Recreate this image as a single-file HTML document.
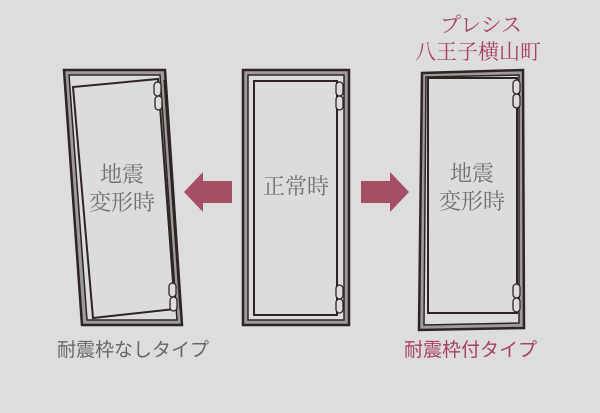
<!DOCTYPE html>
<html><head><meta charset="utf-8"><style>
html,body{margin:0;padding:0;background:#dddddd;}
svg{display:block}
text{font-family:"Noto Serif CJK SC","Liberation Serif",serif;}
</style></head><body>
<svg width="600" height="413" viewBox="0 0 600 413" xmlns="http://www.w3.org/2000/svg">
<rect width="600" height="413" fill="#dddddd"/>
<g stroke="#2e2424" stroke-linejoin="miter">
<!-- left -->
<polygon points="64,70 165,70 182,325 82,325" fill="#9c9c9c" stroke-width="2.5"/>
<polygon points="69,75 160,75 177,320 87,320" fill="#dcdcdc" stroke-width="1.5"/>
<polygon points="73,87 158,79 175,309 93,318" fill="#dcdcdc" stroke-width="2"/>
<line x1="164" y1="80" x2="180" y2="310" stroke-width="1.2"/>
<rect x="154" y="82" width="7" height="14" rx="3.5" fill="#dcdcdc" stroke-width="1.3"/>
<rect x="155" y="96" width="7" height="14" rx="3.5" fill="#dcdcdc" stroke-width="1.3"/>
<rect x="169" y="283" width="7" height="14" rx="3.5" fill="#dcdcdc" stroke-width="1.3"/>
<rect x="170" y="297" width="7" height="14" rx="3.5" fill="#dcdcdc" stroke-width="1.3"/>
<!-- center -->
<rect x="243" y="70" width="106" height="255" fill="#9c9c9c" stroke-width="2.5"/>
<rect x="248" y="75" width="96" height="245" fill="#dcdcdc" stroke-width="1.5"/>
<rect x="254" y="81" width="83" height="234" fill="#dcdcdc" stroke-width="2"/>
<rect x="336" y="82" width="7" height="14" rx="3.5" fill="#dcdcdc" stroke-width="1.3"/>
<rect x="336" y="96" width="7" height="14" rx="3.5" fill="#dcdcdc" stroke-width="1.3"/>
<rect x="336" y="285" width="7" height="14" rx="3.5" fill="#dcdcdc" stroke-width="1.3"/>
<rect x="336" y="299" width="7" height="14" rx="3.5" fill="#dcdcdc" stroke-width="1.3"/>
<!-- right -->
<polygon points="422,73 523,70 524,328 419,330" fill="#9c9c9c" stroke-width="2.5"/>
<polygon points="426,77 519,75 519,323 424,325" fill="#dcdcdc" stroke-width="1.5"/>
<rect x="428" y="78" width="89" height="235" fill="#dcdcdc" stroke-width="2"/>
<rect x="513" y="80" width="7" height="14" rx="3.5" fill="#dcdcdc" stroke-width="1.3"/>
<rect x="513" y="94" width="7" height="14" rx="3.5" fill="#dcdcdc" stroke-width="1.3"/>
<rect x="513" y="284" width="7" height="14" rx="3.5" fill="#dcdcdc" stroke-width="1.3"/>
<rect x="513" y="298" width="7" height="14" rx="3.5" fill="#dcdcdc" stroke-width="1.3"/>
</g>
<!-- arrows -->
<polygon points="184,192 203,172 203,181 232,181 232,203 203,203 203,212" fill="#a44f63"/>
<polygon points="409,192 390,172 390,181 361,181 361,203 390,203 390,212" fill="#a44f63"/>
<!-- texts -->
<g fill="#707070" font-size="22" text-anchor="middle">
<text x="122" y="182">地震</text>
<text x="122" y="210">変形時</text>
<text x="296" y="194">正常時</text>
<text x="472" y="181">地震</text>
<text x="472" y="209">変形時</text>
</g>
<text x="57" y="356" fill="#666" font-size="19" style="font-family:'Liberation Sans','Noto Sans CJK JP',sans-serif">耐震枠なしタイプ</text>
<text x="404" y="356" fill="#a8405e" font-size="19" style="font-family:'Liberation Sans','Noto Sans CJK JP',sans-serif">耐震枠付タイプ</text>
<g fill="#a8405e" font-size="21" text-anchor="middle">
<text x="481" y="32">プレシス</text>
<text x="478" y="59">八王子横山町</text>
</g>
</svg>
</body></html>
